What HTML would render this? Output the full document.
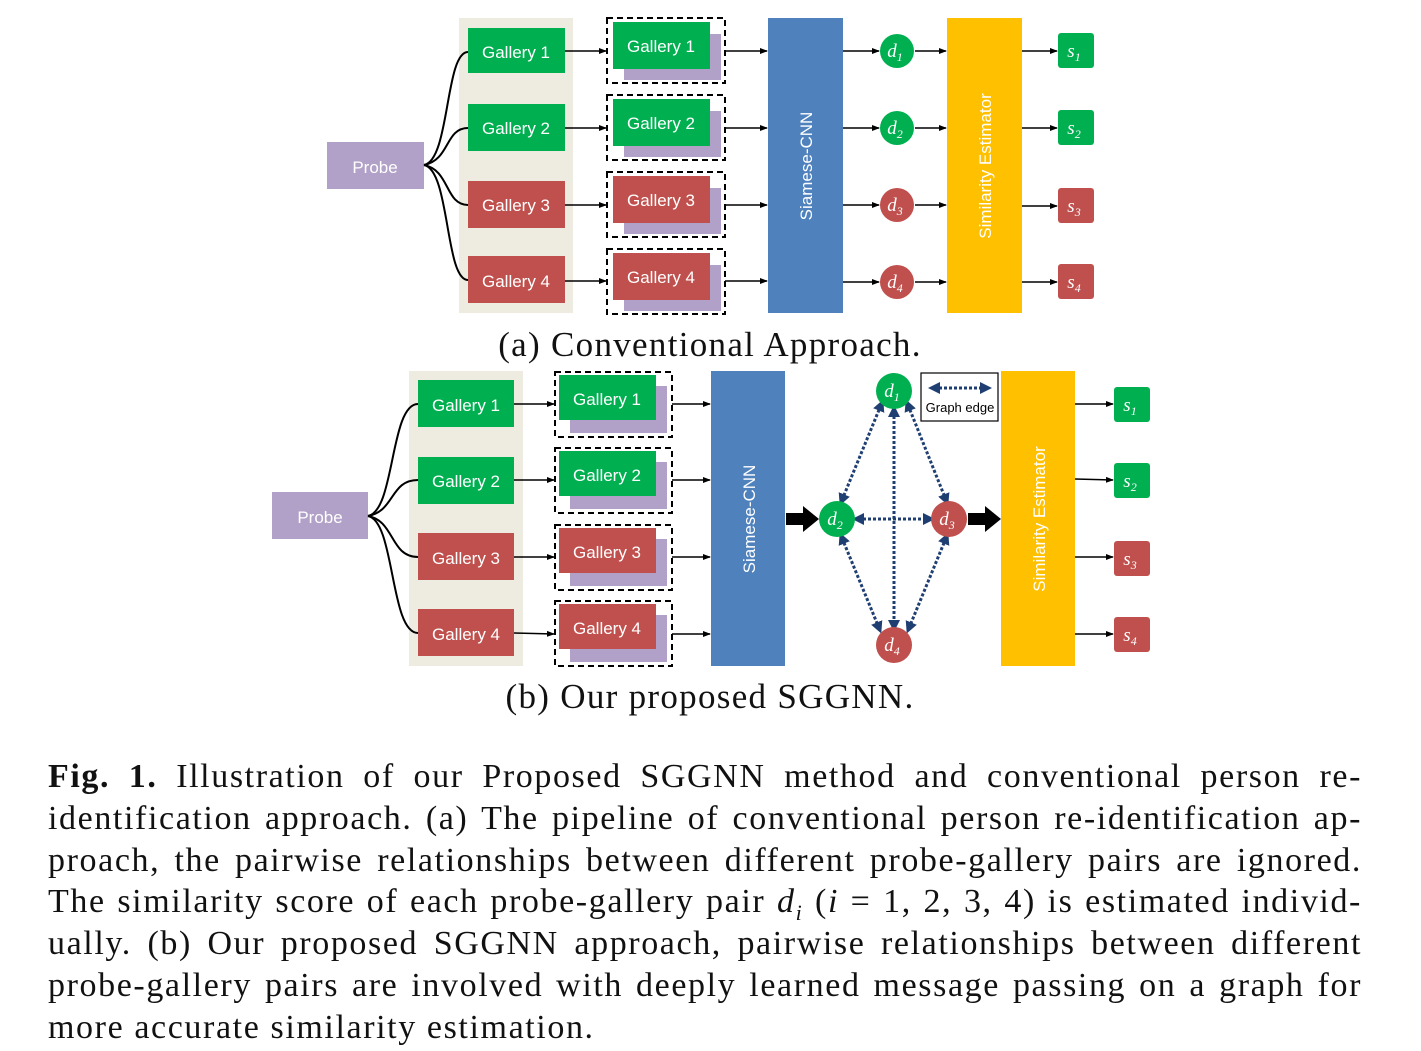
<!DOCTYPE html>
<html><head><meta charset="utf-8"><style>
body{margin:0;width:1421px;height:1051px;background:#fff;position:relative;overflow:hidden;font-family:"Liberation Sans",sans-serif}
svg{position:absolute;left:0;top:0}
.cap{position:absolute;left:48px;width:1314px;font-family:"Liberation Serif",serif;font-size:34px;letter-spacing:1.6px;color:#111}
.cap div{height:41.8px;line-height:41.8px;text-align:justify;text-align-last:justify;white-space:nowrap;overflow:visible}
.cap div.last{text-align-last:left}
.sub{position:absolute;left:310px;width:800px;text-align:center;font-family:"Liberation Serif",serif;font-size:35px;letter-spacing:1.3px;color:#111;white-space:nowrap}
</style></head><body>
<svg width="1421" height="1051" viewBox="0 0 1421 1051" font-family="Liberation Sans, sans-serif">
<defs>
<marker id="a" markerWidth="8" markerHeight="8" refX="7" refY="4" orient="auto" markerUnits="userSpaceOnUse"><path d="M0,1 L8,4 L0,7z" fill="#000"/></marker>
<marker id="b" markerWidth="12" markerHeight="12" refX="6" refY="6" orient="auto-start-reverse" markerUnits="userSpaceOnUse"><path d="M0,0 L12,6 L0,12z" fill="#1f3f73"/></marker>
</defs>
<rect x="459" y="18" width="114" height="295" fill="#eeebe0"/>
<rect x="327" y="142" width="97" height="47" fill="#b1a0c7"/>
<text x="375" y="173" fill="#fff" font-size="17" text-anchor="middle">Probe</text>
<g fill="none" stroke="#000" stroke-width="2">
<path d="M424,165 C450,160 445,52 468,52"/>
<path d="M424,165 C450,160 445,128 468,128"/>
<path d="M424,165 C450,170 445,205 468,205"/>
<path d="M424,165 C450,170 445,280 468,280"/>
</g>
<g font-size="17" fill="#fff" text-anchor="middle">
<rect x="468" y="28" width="97" height="45" fill="#00b050"/><text x="516" y="58">Gallery 1</text>
<rect x="468" y="104" width="97" height="47" fill="#00b050"/><text x="516" y="134">Gallery 2</text>
<rect x="468" y="181" width="97" height="47" fill="#c0504d"/><text x="516" y="211">Gallery 3</text>
<rect x="468" y="256" width="97" height="47" fill="#c0504d"/><text x="516" y="287">Gallery 4</text>
</g>
<g stroke="#000" stroke-width="1.6" marker-end="url(#a)">
<line x1="565" y1="51" x2="606" y2="51"/><line x1="565" y1="128" x2="606" y2="128"/><line x1="565" y1="205" x2="606" y2="205"/><line x1="565" y1="281" x2="606" y2="281"/>
<line x1="725" y1="51" x2="767" y2="51"/><line x1="725" y1="128" x2="767" y2="128"/><line x1="725" y1="205" x2="767" y2="205"/><line x1="725" y1="281" x2="767" y2="281"/>
<line x1="843" y1="51" x2="879" y2="51"/><line x1="843" y1="128" x2="879" y2="128"/><line x1="843" y1="205" x2="879" y2="205"/><line x1="843" y1="282" x2="879" y2="282"/>
<line x1="915" y1="51" x2="946" y2="51"/><line x1="915" y1="128" x2="946" y2="128"/><line x1="915" y1="205" x2="946" y2="205"/><line x1="915" y1="282" x2="946" y2="282"/>
<line x1="1022" y1="51" x2="1057" y2="51"/><line x1="1022" y1="128" x2="1057" y2="128"/><line x1="1022" y1="206" x2="1057" y2="206"/><line x1="1022" y1="282" x2="1057" y2="282"/>
</g>
<g font-size="17" fill="#fff" text-anchor="middle">
<g transform="translate(607,18)"><rect x="17" y="16" width="97" height="46" fill="#b1a0c7"/><rect x="6" y="4" width="97" height="47" fill="#00b050"/><text x="54" y="34">Gallery 1</text><rect x="0" y="0" width="118" height="65" fill="none" stroke="#000" stroke-width="2" stroke-dasharray="6,4"/></g>
<g transform="translate(607,95)"><rect x="17" y="16" width="97" height="46" fill="#b1a0c7"/><rect x="6" y="4" width="97" height="47" fill="#00b050"/><text x="54" y="34">Gallery 2</text><rect x="0" y="0" width="118" height="65" fill="none" stroke="#000" stroke-width="2" stroke-dasharray="6,4"/></g>
<g transform="translate(607,172)"><rect x="17" y="16" width="97" height="46" fill="#b1a0c7"/><rect x="6" y="4" width="97" height="47" fill="#c0504d"/><text x="54" y="34">Gallery 3</text><rect x="0" y="0" width="118" height="65" fill="none" stroke="#000" stroke-width="2" stroke-dasharray="6,4"/></g>
<g transform="translate(607,249)"><rect x="17" y="16" width="97" height="46" fill="#b1a0c7"/><rect x="6" y="4" width="97" height="47" fill="#c0504d"/><text x="54" y="34">Gallery 4</text><rect x="0" y="0" width="118" height="65" fill="none" stroke="#000" stroke-width="2" stroke-dasharray="6,4"/></g>
</g>
<rect x="768" y="18" width="75" height="295" fill="#4f81bd"/>
<text transform="translate(812,166) rotate(-90)" fill="#fff" font-size="17" text-anchor="middle">Siamese-CNN</text>
<rect x="947" y="18" width="75" height="295" fill="#ffc000"/>
<text transform="translate(991,166) rotate(-90)" fill="#fff" font-size="17" text-anchor="middle">Similarity Estimator</text>
<g font-family="Liberation Serif, serif" font-style="italic" fill="#fff" font-size="19" text-anchor="middle">
<circle cx="897" cy="51" r="17" fill="#00b050"/><text x="895" y="57">d<tspan font-size="12" dy="4">1</tspan></text>
<circle cx="897" cy="128" r="17" fill="#00b050"/><text x="895" y="134">d<tspan font-size="12" dy="4">2</tspan></text>
<circle cx="897" cy="205" r="17" fill="#c0504d"/><text x="895" y="211">d<tspan font-size="12" dy="4">3</tspan></text>
<circle cx="897" cy="282" r="17" fill="#c0504d"/><text x="895" y="288">d<tspan font-size="12" dy="4">4</tspan></text>
<rect x="1058" y="33" width="36" height="35" rx="3" fill="#00b050"/><text x="1074" y="57">s<tspan font-size="12" dy="4">1</tspan></text>
<rect x="1058" y="110" width="36" height="35" rx="3" fill="#00b050"/><text x="1074" y="134">s<tspan font-size="12" dy="4">2</tspan></text>
<rect x="1058" y="188" width="36" height="35" rx="3" fill="#c0504d"/><text x="1074" y="212">s<tspan font-size="12" dy="4">3</tspan></text>
<rect x="1058" y="264" width="36" height="35" rx="3" fill="#c0504d"/><text x="1074" y="288">s<tspan font-size="12" dy="4">4</tspan></text>
</g>

<rect x="409" y="371" width="114" height="295" fill="#eeebe0"/>
<rect x="272" y="492" width="96" height="47" fill="#b1a0c7"/>
<text x="320" y="523" fill="#fff" font-size="17" text-anchor="middle">Probe</text>
<g fill="none" stroke="#000" stroke-width="2">
<path d="M368,516 C395,511 390,404 418,404"/>
<path d="M368,516 C395,511 390,480 418,480"/>
<path d="M368,516 C395,521 390,557 418,557"/>
<path d="M368,516 C395,521 390,633 418,633"/>
</g>
<g font-size="17" fill="#fff" text-anchor="middle">
<rect x="418" y="380" width="96" height="47" fill="#00b050"/><text x="466" y="411">Gallery 1</text>
<rect x="418" y="457" width="96" height="47" fill="#00b050"/><text x="466" y="487">Gallery 2</text>
<rect x="418" y="533" width="96" height="47" fill="#c0504d"/><text x="466" y="564">Gallery 3</text>
<rect x="418" y="609" width="96" height="47" fill="#c0504d"/><text x="466" y="640">Gallery 4</text>
</g>
<g stroke="#000" stroke-width="1.6" marker-end="url(#a)">
<line x1="514" y1="404" x2="554" y2="404"/><line x1="514" y1="480" x2="554" y2="480"/><line x1="514" y1="557" x2="554" y2="557"/><line x1="514" y1="633" x2="554" y2="634"/>
<line x1="672" y1="404" x2="710" y2="404"/><line x1="672" y1="480" x2="710" y2="480"/><line x1="672" y1="557" x2="710" y2="557"/><line x1="672" y1="634" x2="710" y2="634"/>
<line x1="1075" y1="404" x2="1113" y2="404"/><line x1="1075" y1="479" x2="1113" y2="480"/><line x1="1075" y1="557" x2="1113" y2="557"/><line x1="1075" y1="634" x2="1113" y2="634"/>
</g>
<g font-size="17" fill="#fff" text-anchor="middle">
<g transform="translate(555,372)"><rect x="15" y="14" width="97" height="47" fill="#b1a0c7"/><rect x="4" y="3" width="97" height="45" fill="#00b050"/><text x="52" y="33">Gallery 1</text><rect x="0" y="0" width="117" height="65" fill="none" stroke="#000" stroke-width="2" stroke-dasharray="6,4"/></g>
<g transform="translate(555,448)"><rect x="15" y="14" width="97" height="47" fill="#b1a0c7"/><rect x="4" y="3" width="97" height="45" fill="#00b050"/><text x="52" y="33">Gallery 2</text><rect x="0" y="0" width="117" height="65" fill="none" stroke="#000" stroke-width="2" stroke-dasharray="6,4"/></g>
<g transform="translate(555,525)"><rect x="15" y="14" width="97" height="47" fill="#b1a0c7"/><rect x="4" y="3" width="97" height="45" fill="#c0504d"/><text x="52" y="33">Gallery 3</text><rect x="0" y="0" width="117" height="65" fill="none" stroke="#000" stroke-width="2" stroke-dasharray="6,4"/></g>
<g transform="translate(555,601)"><rect x="15" y="14" width="97" height="47" fill="#b1a0c7"/><rect x="4" y="3" width="97" height="45" fill="#c0504d"/><text x="52" y="33">Gallery 4</text><rect x="0" y="0" width="117" height="65" fill="none" stroke="#000" stroke-width="2" stroke-dasharray="6,4"/></g>
</g>
<rect x="711" y="371" width="74" height="295" fill="#4f81bd"/>
<text transform="translate(755,519) rotate(-90)" fill="#fff" font-size="17" text-anchor="middle">Siamese-CNN</text>
<rect x="1001" y="371" width="74" height="295" fill="#ffc000"/>
<text transform="translate(1045,519) rotate(-90)" fill="#fff" font-size="17" text-anchor="middle">Similarity Estimator</text>
<path d="M786,513 L803,513 L803,506 L819,519 L803,532 L803,525 L786,525z" fill="#000"/>
<path d="M968,513 L985,513 L985,506 L1001,519 L985,532 L985,525 L968,525z" fill="#000"/>
<g stroke="#1f3f73" stroke-width="3" stroke-dasharray="3,2" fill="none" marker-start="url(#b)" marker-end="url(#b)">
<line x1="881" y1="405" x2="842" y2="500"/>
<line x1="908" y1="405" x2="946" y2="500"/>
<line x1="858" y1="519" x2="929" y2="519"/>
<line x1="894" y1="411" x2="894" y2="626"/>
<line x1="842" y1="538" x2="879" y2="628"/>
<line x1="946" y1="538" x2="909" y2="628"/>
</g>
<rect x="921" y="373" width="77" height="48" fill="#fff" stroke="#000" stroke-width="1.2"/>
<line x1="934" y1="388" x2="986" y2="388" stroke="#1f3f73" stroke-width="3" stroke-dasharray="3,2" marker-start="url(#b)" marker-end="url(#b)"/>
<text x="960" y="412" font-size="13" text-anchor="middle" fill="#000">Graph edge</text>
<g font-family="Liberation Serif, serif" font-style="italic" fill="#fff" font-size="19" text-anchor="middle">
<circle cx="894" cy="391" r="18" fill="#00b050"/><text x="892" y="397">d<tspan font-size="12" dy="4">1</tspan></text>
<circle cx="837" cy="519" r="18" fill="#00b050"/><text x="835" y="525">d<tspan font-size="12" dy="4">2</tspan></text>
<circle cx="949" cy="519" r="18" fill="#c0504d"/><text x="947" y="525">d<tspan font-size="12" dy="4">3</tspan></text>
<circle cx="894" cy="645" r="18" fill="#c0504d"/><text x="892" y="651">d<tspan font-size="12" dy="4">4</tspan></text>
<rect x="1114" y="387" width="36" height="35" rx="3" fill="#00b050"/><text x="1130" y="411">s<tspan font-size="12" dy="4">1</tspan></text>
<rect x="1114" y="463" width="36" height="35" rx="3" fill="#00b050"/><text x="1130" y="487">s<tspan font-size="12" dy="4">2</tspan></text>
<rect x="1114" y="541" width="36" height="35" rx="3" fill="#c0504d"/><text x="1130" y="565">s<tspan font-size="12" dy="4">3</tspan></text>
<rect x="1114" y="617" width="36" height="35" rx="3" fill="#c0504d"/><text x="1130" y="641">s<tspan font-size="12" dy="4">4</tspan></text>
</g>
</svg>
<div class="sub" style="top:325px">(a) Conventional Approach.</div>
<div class="sub" style="top:677px">(b) Our proposed SGGNN.</div>
<div class="cap" style="top:756px">
<div><b>Fig. 1.</b> Illustration of our Proposed SGGNN method and conventional person re-</div>
<div>identification approach. (a) The pipeline of conventional person re-identification ap-</div>
<div>proach, the pairwise relationships between different probe-gallery pairs are ignored.</div>
<div>The similarity score of each probe-gallery pair <i>d<sub style="font-size:22px">i</sub></i> (<i>i</i> = 1, 2, 3, 4) is estimated individ-</div>
<div>ually. (b) Our proposed SGGNN approach, pairwise relationships between different</div>
<div>probe-gallery pairs are involved with deeply learned message passing on a graph for</div>
<div class="last">more accurate similarity estimation.</div>
</div>
</body></html>
